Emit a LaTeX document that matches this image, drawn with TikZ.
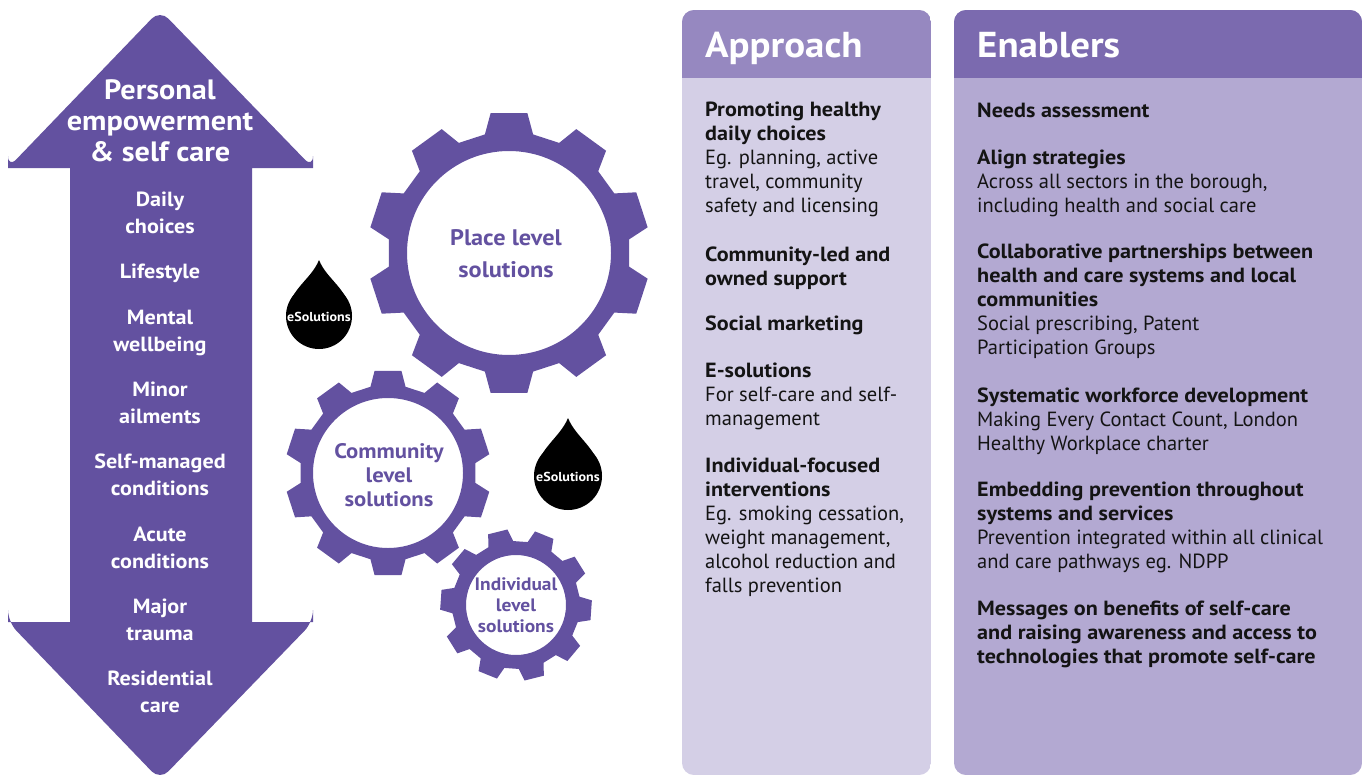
\documentclass[tikz,border=0pt]{standalone}
\usepackage{fontspec}
\setmainfont{PT Sans}[BoldFeatures={FakeStretch=1.08}]
\definecolor{arrowc}{HTML}{6351A0}
\definecolor{gearc}{HTML}{6351A0}
\definecolor{apphead}{HTML}{9688C0}
\definecolor{appbody}{HTML}{D4CFE6}
\definecolor{enahead}{HTML}{7B6AAF}
\definecolor{enabody}{HTML}{B3A9D2}
\definecolor{txt}{HTML}{141414}
\newcommand{\drawgear}[7]{% name, cx, cy, Rroot, Rtip, Rin, offset
\begin{scope}[shift={(#2,#3)}]
\fill[gearc,even odd rule] (#7-11.5:#4)
  \foreach \k [evaluate=\k as \t using #7+36*\k] in {0,...,9}{
    -- (\t-11.5:#4) -- (\t-7.5:#5) -- (\t+7.5:#5) -- (\t+11.5:#4)}
  -- cycle (0,0) circle[radius=#6];
\end{scope}
\coordinate (#1) at (#2,#3);}
\newcommand{\drawdrop}[5]{% name, cx, cy, r, tip y
\fill[black] (#2,#5) .. controls (#2+8,#5+20) and (#2+#4-4,#3-28) .. (#2+#4,#3)
  -- (#2-#4,#3) .. controls (#2-#4+4,#3-28) and (#2-8,#5+20) .. (#2,#5) -- cycle;
\fill[black] (#2,#3) circle[radius=#4];
\node[droptext] (#1) at (#2,#3+1) {eSolutions};}
\begin{document}
\begin{tikzpicture}[x=1pt,y=-1pt,
  arrowtext/.style={text=white,font=\bfseries\fontsize{20.5}{26.5}\selectfont,align=center,anchor=base,inner sep=0pt},
  arrowtitle/.style={text=white,font=\bfseries\fontsize{28}{31}\selectfont,align=center,anchor=base,inner sep=0pt},
  geartext/.style 2 args={text=gearc,font=\bfseries\fontsize{#1}{#2}\selectfont,align=center,inner sep=0pt},
  droptext/.style={text=white,font=\bfseries\fontsize{13}{15}\selectfont,inner sep=0pt},
  headtext/.style={text=white,font=\bfseries\fontsize{36}{40}\selectfont,anchor=base west,inner sep=0pt},
  bodytext/.style={text=txt,font=\fontsize{20.5}{24}\selectfont,align=left,anchor=base west,inner sep=0pt}]
\useasboundingbox (0,0) rectangle (1364,776);
% double arrow
\fill[arrowc] (70,168) -- (8,168) [rounded corners=12] -- (8,168) -- (160,10) -- (313,168) [sharp corners] -- (313,168) -- (252,168)
  -- (252,622) -- (313,622) [rounded corners=12] -- (313,622) -- (160,780) -- (8,622) [sharp corners] -- (8,622) -- (70,622) -- cycle;
\fill[arrowc] (70,160) rectangle (252,630);
\node[arrowtitle] (title) at (160,161) {Personal\\empowerment\\\& self care};
\node[arrowtext] (a1) at (160,233) {Daily\\choices};
\node[arrowtext] (a2) at (160,278) {Lifestyle};
\node[arrowtext] (a3) at (160,351) {Mental\\wellbeing};
\node[arrowtext] (a4) at (160,423) {Minor\\ailments};
\node[arrowtext] (a5) at (160,495) {Self-managed\\conditions};
\node[arrowtext] (a6) at (160,568) {Acute\\conditions};
\node[arrowtext] (a7) at (160,640) {Major\\trauma};
\node[arrowtext] (a8) at (160,712) {Residential\\care};
% gears
\drawgear{place}{509}{253}{121}{141}{102}{18}
\drawgear{community}{388}{473}{88}{103}{75}{18}
\drawgear{individual}{516}{605}{64}{76}{50}{4}
\node[geartext={22.5}{32}] (placet) at (506,254) {Place level\\solutions};
\node[geartext={21}{24}] (commt) at (389,475) {Community\\level\\solutions};
\node[geartext={18}{21}] (indt) at (516,605) {Individual\\level\\solutions};
% drops
\drawdrop{drop1}{319}{316}{33}{260}
\drawdrop{drop2}{568}{476}{34}{418}
% panels
\begin{scope}
\clip[rounded corners=12] (682,10) rectangle (931,775);
\fill[appbody] (682,10) rectangle (931,775);
\fill[apphead] (682,10) rectangle (931,78);
\end{scope}
\begin{scope}
\clip[rounded corners=12] (954,10) rectangle (1362,775);
\fill[enabody] (954,10) rectangle (1362,775);
\fill[enahead] (954,10) rectangle (1362,78);
\end{scope}
\node[headtext] (apph) at (705,57) {Approach};
\node[headtext] (enah) at (977,57) {Enablers};
% approach text
\node[bodytext] (p1) at (705,212) {\textbf{Promoting healthy}\\\textbf{daily choices}\\Eg. planning, active\\travel, community\\safety and licensing};
\node[bodytext] (p2) at (705,285) {\textbf{Community-led and}\\\textbf{owned support}};
\node[bodytext] (p3) at (705,330) {\textbf{Social marketing}};
\node[bodytext] (p4) at (705,425) {\textbf{E-solutions}\\For self-care and self-\\management};
\node[bodytext] (p5) at (705,592) {\textbf{Individual-focused}\\\textbf{interventions}\\Eg. smoking cessation,\\weight management,\\alcohol reduction and\\falls prevention};
% enablers text
\node[bodytext] (e1) at (977,117) {\textbf{Needs assessment}};
\node[bodytext] (e2) at (977,212) {\textbf{Align strategies}\\Across all sectors in the borough,\\including health and social care};
\node[bodytext] (e3) at (977,354) {\textbf{Collaborative partnerships between}\\\textbf{health and care systems and local}\\\textbf{communities}\\Social prescribing, Patent\\Participation Groups};
\node[bodytext] (e4) at (977,450) {\textbf{Systematic workforce development}\\Making Every Contact Count, London\\Healthy Workplace charter};
\node[bodytext] (e5) at (977,568) {\textbf{Embedding prevention throughout}\\\textbf{systems and services}\\Prevention integrated within all clinical\\and care pathways eg. NDPP};
\node[bodytext] (e6) at (977,663) {\textbf{Messages on benefits of self-care}\\\textbf{and raising awareness and access to}\\\textbf{technologies that promote self-care}};
\end{tikzpicture}
\end{document}
